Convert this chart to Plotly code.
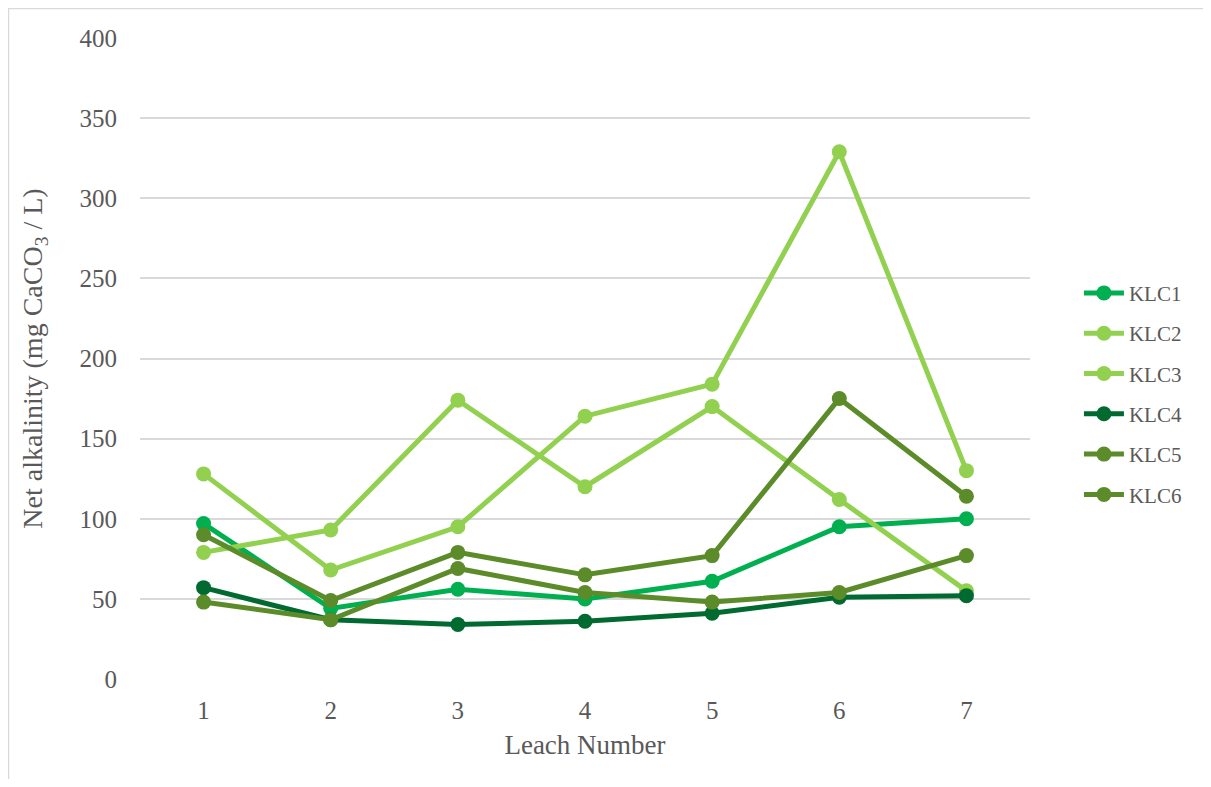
import plotly.graph_objects as go

leach = [1, 2, 3, 4, 5, 6, 7]
klc1 = [97, 44, 56, 50, 61, 95, 100]
klc2 = [128, 68, 95, 164, 184, 329, 130]
klc3 = [79, 93, 174, 120, 170, 112, 55]
klc4 = [57, 37, 34, 36, 41, 51, 52]
klc5 = [90, 49, 79, 65, 77, 175, 114]
klc6 = [48, 37, 69, 54, 48, 54, 77]

names = ["KLC1", "KLC2", "KLC3", "KLC4", "KLC5", "KLC6"]
series = [klc1, klc2, klc3, klc4, klc5, klc6]
colors = ["#00B050", "#92D050", "#92D050", "#006A30", "#5B8C29", "#5B8C29"]

FONT = "Liberation Serif"
GRAY = "#595959"

fig = go.Figure()
for n, s, c in zip(names, series, colors):
    fig.add_trace(go.Scatter(
        x=leach, y=s, name=n, legendgroup=n,
        mode="lines+markers",
        line=dict(color=c, width=5),
        marker=dict(color=c, size=15),
    ))

fig.update_layout(
    width=1203, height=771,
    margin=dict(l=132, r=181, t=30, b=100),
    paper_bgcolor="white", plot_bgcolor="white",
    font=dict(family=FONT, size=21, color=GRAY),
    showlegend=True,
    legend=dict(
        x=1.055, y=0.445, xanchor="left", yanchor="middle",
        font=dict(family=FONT, size=21, color=GRAY),
        tracegroupgap=10, itemwidth=40,
        bgcolor="rgba(0,0,0,0)",
    ),
    xaxis=dict(
        range=[0.5, 7.5], tickmode="array", tickvals=leach,
        ticktext=[str(v) for v in leach],
        showgrid=False, zeroline=False, showline=False,
        ticks="", ticklabelstandoff=14,
        title=dict(text="Leach Number", standoff=12,
                   font=dict(family=FONT, size=27, color=GRAY)),
        tickfont=dict(family=FONT, size=25, color=GRAY),
    ),
    yaxis=dict(
        range=[0, 400], dtick=50, showgrid=True, gridcolor="#D9D9D9",
        gridwidth=1.5, zeroline=False, showline=False, ticks="",
        ticklabelstandoff=22,
        title=dict(text="Net alkalinity (mg CaCO<sub>3</sub> / L)", standoff=28,
                   font=dict(family=FONT, size=28, color=GRAY)),
        tickfont=dict(family=FONT, size=25, color=GRAY),
    ),
    shapes=[dict(type="rect", xref="paper", yref="paper",
                 x0=-0.1478, x1=1.2105, y0=-0.2, y1=1.046,
                 line=dict(color="#D9D9D9", width=1.5), layer="below")],
)

fig.write_html("out.html")
